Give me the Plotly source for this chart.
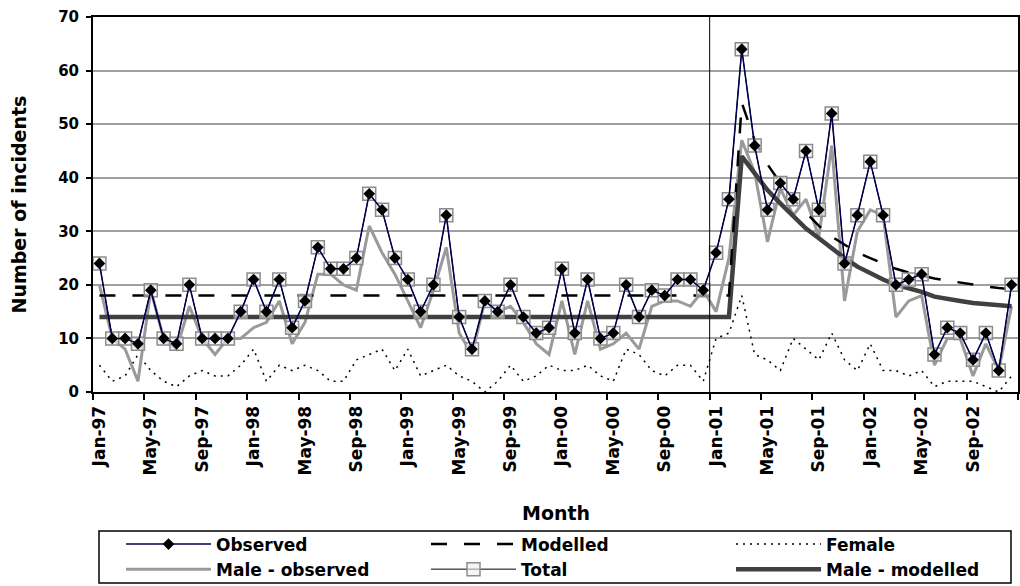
import plotly.graph_objects as go

months = ["Jan", "Feb", "Mar", "Apr", "May", "Jun", "Jul", "Aug", "Sep", "Oct", "Nov", "Dec"]
years = ["97", "98", "99", "00", "01", "02"]
categories = [f"{m}-{y}" for y in years for m in months]

observed = [24, 10, 10, 9, 19, 10, 9, 20, 10, 10, 10, 15,
            21, 15, 21, 12, 17, 27, 23, 23, 25, 37, 34, 25,
            21, 15, 20, 33, 14, 8, 17, 15, 20, 14, 11, 12,
            23, 11, 21, 10, 11, 20, 14, 19, 18, 21, 21, 19,
            26, 36, 64, 46, 34, 39, 36, 45, 34, 52, 24, 33,
            43, 33, 20, 21, 22, 7, 12, 11, 6, 11, 4, 20]
total = list(observed)
male_observed = [20, 10, 8, 2, 19, 10, 8, 16, 10, 7, 10, 10,
                 12, 13, 17, 9, 13, 22, 22, 20, 19, 31, 26, 22,
                 17, 12, 19, 27, 11, 7, 17, 15, 16, 13, 9, 7,
                 17, 7, 17, 8, 9, 11, 8, 16, 17, 17, 16, 19,
                 15, 25, 47, 41, 28, 38, 33, 36, 29, 46, 17, 30,
                 34, 33, 14, 17, 18, 5, 10, 10, 3, 9, 4, 16]
female = [5, 2, 3, 7, 4, 2, 1, 3, 4, 3, 3, 5,
          8, 2, 5, 4, 5, 4, 2, 2, 6, 7, 8, 4,
          8, 3, 4, 5, 3, 2, 0, 2, 5, 2, 3, 5,
          4, 4, 5, 3, 2, 8, 7, 4, 3, 5, 5, 2,
          10, 11, 18, 7, 6, 4, 10, 8, 6, 11, 6, 4,
          9, 4, 4, 3, 4, 1, 2, 2, 2, 1, 0, 3]
modelled = [18] * 50 + [54, 47, 42.5, 39, 36, 33.5, 31, 29, 27.5, 26,
                        25, 24, 23, 22.3, 21.7, 21.2, 20.8, 20.4, 20, 19.7, 19.4, 19.2]
male_modelled = [14] * 50 + [44, 40.8, 37.7, 35.2, 32.7, 30.5, 28.7, 26.8, 25, 23.4,
                             22.1, 21, 20, 19.4, 18.7, 17.8, 17.3, 17.0, 16.6, 16.4, 16.2, 16.0]

tick_idx = list(range(0, 72, 4))
tick_text = [categories[i] for i in tick_idx]
x = list(range(len(categories)))

FONT = "DejaVu Sans"
fig = go.Figure()

fig.add_trace(go.Scatter(x=x, y=female, mode="lines", name="Female",
                         line=dict(color="black", width=1.5, dash="2px,5px"), legendrank=3))
fig.add_trace(go.Scatter(x=x, y=male_observed, mode="lines", name="Male - observed",
                         line=dict(color="#9a9a9a", width=3), legendrank=4))
fig.add_trace(go.Scatter(x=x, y=male_modelled, mode="lines", name="Male - modelled",
                         line=dict(color="#404040", width=4.5), legendrank=6))
fig.add_trace(go.Scatter(x=x, y=modelled, mode="lines", name="Modelled",
                         line=dict(color="black", width=2.5, dash="16px,17px"), legendrank=2))
fig.add_trace(go.Scatter(x=x, y=total, mode="lines+markers", name="Total",
                         line=dict(color="black", width=1),
                         marker=dict(symbol="square", size=13, color="rgba(240,240,240,0.6)",
                                     line=dict(color="#8c8c8c", width=1.5)), legendrank=5))
fig.add_trace(go.Scatter(x=x, y=observed, mode="lines+markers", name="Observed",
                         line=dict(color="#000050", width=1.5),
                         marker=dict(symbol="diamond", size=9, color="black"), legendrank=1))

fig.add_shape(type="line", x0=47.5, x1=47.5, y0=0, y1=70, xref="x", yref="y",
              line=dict(color="black", width=1))
# legend frame
fig.add_shape(type="rect", xref="paper", yref="paper",
              x0=(99 - 93) / 925, x1=(1011 - 93) / 925,
              y0=(392 - 583) / 375, y1=(392 - 531) / 375,
              line=dict(color="black", width=1.5), fillcolor="rgba(0,0,0,0)", layer="above")

fig.update_layout(
    width=1020, height=586,
    margin=dict(l=93, r=2, t=17, b=194, autoexpand=False),
    paper_bgcolor="white", plot_bgcolor="white",
    font=dict(family=FONT, color="black"),
    showlegend=True,
    legend=dict(orientation="h", x=(121 - 93) / 925, xanchor="left",
                y=(392 - 526.5) / 375, yanchor="top",
                borderwidth=0, bgcolor="rgba(0,0,0,0)",
                font=dict(family=FONT, size=17, weight="bold"),
                entrywidth=205, entrywidthmode="pixels", tracegroupgap=0,
                itemwidth=85),
    xaxis=dict(range=[-0.5, 71.5], tickmode="array", tickvals=tick_idx, ticktext=tick_text,
               tickangle=-90, ticks="", showgrid=False, zeroline=False,
               showline=True, linecolor="black", linewidth=2, mirror=True,
               ticklabelstandoff=5,
               tickfont=dict(family=FONT, size=17, weight="bold"),
               minor=dict(tickmode="array", tickvals=[i - 0.5 for i in range(0, 73, 4)],
                          ticks="outside", ticklen=6, tickwidth=1.5, tickcolor="black",
                          showgrid=False)),
    yaxis=dict(range=[0, 70], tickmode="linear", tick0=0, dtick=10,
               ticks="outside", ticklen=5, tickwidth=1.5, tickcolor="black",
               showgrid=True, gridcolor="#a0a0a0", gridwidth=1.5, zeroline=False,
               showline=True, linecolor="black", linewidth=2, mirror=True,
               ticklabelstandoff=4,
               tickfont=dict(family=FONT, size=15, weight="bold")),
    annotations=[
        dict(text="Month", xref="paper", yref="paper", x=0.5, y=(392 - 513) / 375,
             xanchor="center", yanchor="middle", showarrow=False,
             font=dict(family=FONT, size=19, weight="bold")),
        dict(text="Number of incidents", xref="paper", yref="paper", x=(18 - 93) / 925, y=0.5,
             xanchor="center", yanchor="middle", showarrow=False, textangle=-90,
             font=dict(family=FONT, size=19, weight="bold")),
    ],
)

fig.write_html("out.html", config={"displayModeBar": False},
               post_script="document.body.style.margin='0';")
